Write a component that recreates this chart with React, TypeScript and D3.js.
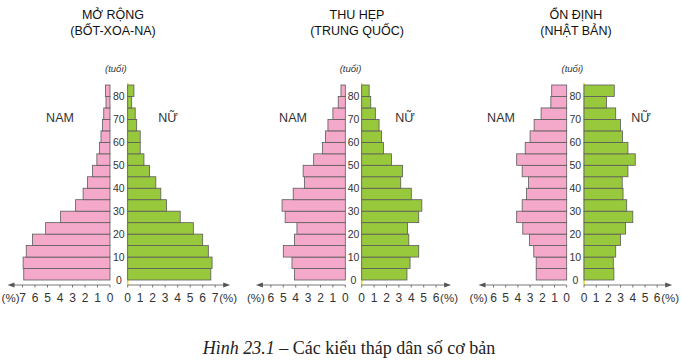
import React from 'react';
import * as d3 from 'd3';

// age groups 0-4 ... 80+
const ageGroups = [0, 5, 10, 15, 20, 25, 30, 35, 40, 45, 50, 55, 60, 65, 70, 75, 80];
const ageTicks = [0, 10, 20, 30, 40, 50, 60, 70, 80];

// Bốt-xoa-na
const botswanaMale = [6.9, 6.95, 6.7, 6.2, 5.15, 3.95, 2.75, 2.15, 1.8, 1.4, 1.05, 0.85, 0.72, 0.6, 0.5, 0.32, 0.37];
const botswanaFemale = [6.65, 6.75, 6.45, 6.0, 5.25, 4.2, 3.1, 2.65, 2.25, 1.75, 1.3, 1.0, 1.0, 0.72, 0.6, 0.32, 0.5];

// Trung Quốc
const chinaMale = [4.1, 4.3, 5.0, 4.1, 3.9, 4.85, 5.1, 4.2, 3.3, 3.4, 2.55, 1.85, 1.6, 1.4, 1.0, 0.57, 0.35];
const chinaFemale = [3.65, 3.9, 4.6, 3.8, 3.7, 4.6, 4.85, 4.0, 3.15, 3.3, 2.4, 1.75, 1.6, 1.4, 1.1, 0.73, 0.6];

// Nhật Bản
const japanMale = [2.5, 2.5, 2.7, 3.05, 3.6, 4.1, 3.65, 3.3, 3.13, 3.65, 4.1, 3.4, 3.0, 2.67, 2.1, 1.3, 1.23];
const japanFemale = [2.45, 2.4, 2.6, 3.0, 3.4, 4.0, 3.5, 3.2, 3.13, 3.6, 4.2, 3.6, 3.15, 3.0, 2.6, 1.85, 2.48];

const titles = [
  ['MỞ RỘNG', '(BỐT-XOA-NA)'],
  ['THU HẸP', '(TRUNG QUỐC)'],
  ['ỔN ĐỊNH', '(NHẬT BẢN)'],
];
const maxTicks = [7, 6, 6];

const PINK = '#f5a9ca';
const GREEN = '#98c93c';
const OUTLINE = '#5a5a5a';
const SANS = '"Liberation Sans", Arial, sans-serif';

const layout = [
  { maleZero: 110, femaleZero: 127.7, unit: 12.5, titleX: 113, namX: 60, nuX: 168 },
  { maleZero: 345.3, femaleZero: 361.7, unit: 12.4, titleX: 357, namX: 293, nuX: 405 },
  { maleZero: 566.7, femaleZero: 584, unit: 12.2, titleX: 576, namX: 501, nuX: 641 },
];

const y = d3.scaleLinear().domain([0, 85]).range([280, 85]);
const axisY = 285;

const Pyramid = ({ male, female, title, maxTick, cfg }) => {
  const xm = d3.scaleLinear().domain([0, maxTick]).range([cfg.maleZero, cfg.maleZero - maxTick * cfg.unit]);
  const xf = d3.scaleLinear().domain([0, maxTick]).range([cfg.femaleZero, cfg.femaleZero + maxTick * cfg.unit]);
  const ticks = d3.range(0, maxTick + 1);
  const mid = (cfg.maleZero + cfg.femaleZero) / 2;
  const mEnd = xm(maxTick) - 15;
  const fEnd = xf(maxTick) + 15;

  return (
    <g>
      <text x={cfg.titleX} y={19} textAnchor="middle" fontSize={12.5} fill="#111" fontFamily={SANS}>{title[0]}</text>
      <text x={cfg.titleX} y={35} textAnchor="middle" fontSize={12.5} fill="#111" fontFamily={SANS}>{title[1]}</text>
      <text x={mid - 3} y={72} textAnchor="middle" fontSize={9.5} fontStyle="italic" fill="#333" fontFamily={SANS}>(tuổi)</text>
      <text x={cfg.namX} y={122} textAnchor="middle" fontSize={12.5} fill="#333" fontFamily={SANS}>NAM</text>
      <text x={cfg.nuX} y={122} textAnchor="middle" fontSize={12.5} fill="#333" fontFamily={SANS}>NỮ</text>

      <line x1={cfg.femaleZero} x2={cfg.femaleZero} y1={y(85) - 2} y2={axisY} stroke="#e6dc00" strokeWidth={1.5} />

      {ageGroups.map((a, i) => (
        <rect key={'m' + a} x={xm(male[i])} y={y(a + 5)} width={cfg.maleZero - xm(male[i])} height={y(a) - y(a + 5)}
          fill={PINK} stroke={OUTLINE} strokeWidth={0.8} />
      ))}
      {ageGroups.map((a, i) => (
        <rect key={'f' + a} x={cfg.femaleZero} y={y(a + 5)} width={xf(female[i]) - cfg.femaleZero} height={y(a) - y(a + 5)}
          fill={GREEN} stroke={OUTLINE} strokeWidth={0.8} />
      ))}

      {ageTicks.map((a) => (
        <text key={a} x={mid} y={y(a)} dy="0.35em" textAnchor="middle" fontSize={10.5} fill="#333" fontFamily={SANS}>{a}</text>
      ))}

      <line x1={cfg.maleZero} x2={mEnd + 5} y1={axisY} y2={axisY} stroke="#555" strokeWidth={0.8} />
      <path d={`M${mEnd},${axisY} l7,-2.5 l0,5 z`} fill="#555" />
      <line x1={cfg.femaleZero} x2={fEnd - 5} y1={axisY} y2={axisY} stroke="#555" strokeWidth={0.8} />
      <path d={`M${fEnd},${axisY} l-7,-2.5 l0,5 z`} fill="#555" />

      {ticks.map((t) => (
        <g key={t}>
          <line x1={xm(t)} x2={xm(t)} y1={axisY} y2={axisY + 2.5} stroke="#555" strokeWidth={0.8} />
          <line x1={xf(t)} x2={xf(t)} y1={axisY} y2={axisY + 2.5} stroke="#555" strokeWidth={0.8} />
          <text x={xm(t)} y={302} textAnchor="middle" fontSize={12} fill="#333" fontFamily={SANS}>{t}</text>
          <text x={xf(t)} y={302} textAnchor="middle" fontSize={12} fill="#333" fontFamily={SANS}>{t}</text>
        </g>
      ))}
      <text x={Math.max(xm(maxTick) - 6, 19.5)} y={302} textAnchor="end" fontSize={11.5} fill="#333" fontFamily={SANS}>(%)</text>
      <text x={xf(maxTick) + 4} y={302} textAnchor="start" fontSize={11.5} fill="#333" fontFamily={SANS}>(%)</text>
    </g>
  );
};

const App = () => {
  const data = [
    [botswanaMale, botswanaFemale],
    [chinaMale, chinaFemale],
    [japanMale, japanFemale],
  ];
  return (
    <div style={{ position: 'absolute', left: 0, top: 0 }}>
      <svg width={682} height={362} style={{ display: 'block', background: '#fff' }}>
        {data.map((d, i) => (
          <Pyramid key={i} male={d[0]} female={d[1]} title={titles[i]} maxTick={maxTicks[i]} cfg={layout[i]} />
        ))}
        <text x={349} y={354} textAnchor="middle" fontSize={18} fill="#222" fontFamily='"Liberation Serif", "Times New Roman", serif'>
          <tspan fontStyle="italic">Hình 23.1</tspan> – Các kiểu tháp dân số cơ bản
        </text>
      </svg>
    </div>
  );
};

export default App;
